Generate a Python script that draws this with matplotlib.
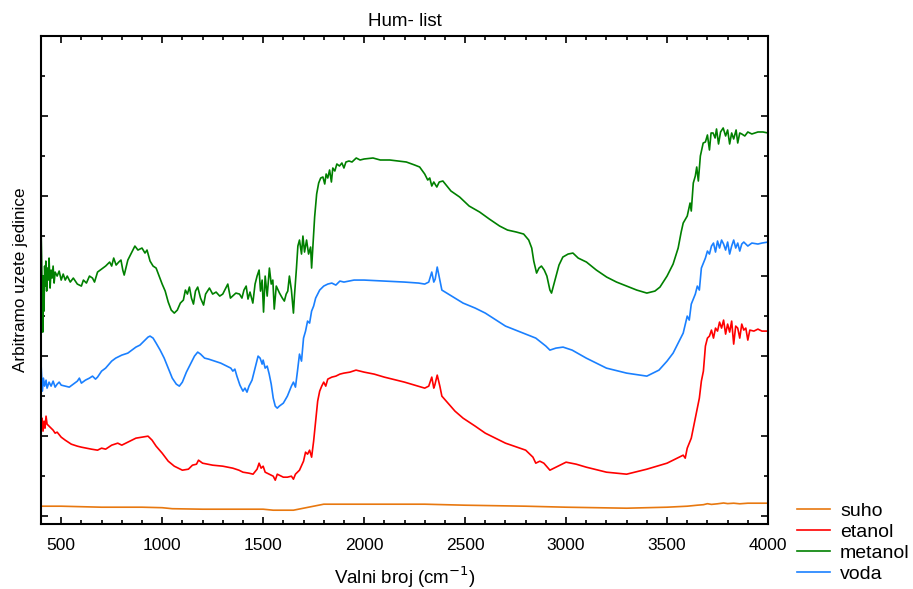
import matplotlib
matplotlib.use("Agg")
import matplotlib.pyplot as plt
from matplotlib.ticker import MultipleLocator, NullFormatter

plt.rcParams['font.family'] = ['Liberation Sans', 'DejaVu Sans']

# 値は画像から読み取ったもの (縦軸は任意単位)
suho_x = [400, 500, 700, 900, 1000, 1050, 1200, 1400, 1500, 1550, 1650, 1700, 1750, 1800,
          2000, 2300, 2500, 2800, 3000, 3300, 3500, 3600, 3650, 3680, 3700, 3720, 3750,
          3780, 3800, 3830, 3860, 3900, 4000]
suho_y = [10, 10, 9, 9, 8.5, 7.5, 7, 7, 7, 6, 6, 8, 10, 12,
          12, 12, 11, 10, 9, 8, 9, 10, 11, 11.5, 12.5, 11.8, 12.4,
          13.2, 12.6, 13, 12.4, 13, 13]

etanol_x = [400, 405, 410, 415, 420, 425, 430, 440, 450, 460, 470, 480, 500, 520, 550, 580,
            600, 650, 680, 700, 720, 750, 780, 800, 820, 850, 870, 900, 930, 950, 970, 1000,
            1030, 1060, 1100, 1130, 1150, 1170, 1180, 1200, 1250, 1300, 1350, 1380, 1400,
            1430, 1450, 1470, 1480, 1490, 1500, 1510, 1530, 1550, 1560, 1570, 1600, 1620,
            1640, 1650, 1660, 1680, 1700, 1710, 1720, 1730, 1740, 1750, 1760, 1770, 1780,
            1790, 1800, 1810, 1820, 1840, 1860, 1880, 1900, 1930, 1960, 1980, 2000, 2050,
            2100, 2200, 2250, 2300, 2320, 2335, 2345, 2350, 2362, 2375, 2385, 2450, 2490,
            2550, 2600, 2700, 2800, 2836, 2850, 2870, 2890, 2920, 2950, 3000, 3050, 3100,
            3200, 3300, 3400, 3500, 3560, 3580, 3590, 3600, 3620, 3640, 3650, 3660, 3670,
            3680, 3690, 3700, 3710, 3720, 3730, 3740, 3750, 3760, 3770, 3780, 3790, 3800,
            3810, 3820, 3830, 3840, 3850, 3860, 3870, 3880, 3890, 3900, 3910, 3930, 3950,
            3970, 4000]
etanol_y = [90, 98, 85, 95, 88, 100, 92, 90, 88, 86, 83, 84, 79, 76, 72, 70,
            69, 67, 66, 68, 67, 71, 73, 71, 73, 76, 78, 79, 80, 76, 70, 63,
            55, 50, 46, 47, 51, 52, 56, 53, 51, 50, 48, 46, 44,
            43, 42, 47, 53, 48, 50, 44, 42, 40, 36, 42, 39, 39,
            40, 37, 42, 46, 55, 64, 62, 66, 59, 75, 95, 115, 125,
            130, 134, 130, 137, 139, 140, 142, 143, 144, 146, 145, 144, 142,
            139, 134, 131, 128, 130, 139, 128, 131, 141, 130, 120, 105, 98,
            90, 83, 73, 66, 59, 53, 55, 53, 46, 49, 54, 52, 49,
            44, 42, 47, 53, 59, 61, 58, 68, 78, 98, 108, 118, 135,
            145, 170, 178, 180, 186, 178, 188, 185, 194, 188, 196, 182, 192,
            184, 195, 172, 190, 188, 178, 192, 186, 188, 176, 186, 185, 187,
            185, 185]

metanol_x = [400, 403, 406, 409, 412, 415, 418, 421, 424, 428, 432, 436, 440, 445, 450, 455,
             460, 465, 470, 480, 490, 500, 510, 520, 530, 545, 560, 580, 600, 610, 625, 640,
             655, 665, 680, 700, 720, 740, 750, 760, 772, 785, 796, 805, 812, 830, 850, 865,
             880, 900, 915, 925, 940, 955, 970, 985, 1000, 1015, 1030, 1045, 1060, 1075,
             1090, 1105, 1115, 1125, 1135, 1145, 1155, 1165, 1176, 1190, 1205, 1215, 1234,
             1250, 1267, 1285, 1300, 1310, 1325, 1338, 1349, 1365, 1383, 1395, 1405, 1416,
             1425, 1435, 1449, 1460, 1470, 1480, 1487, 1495, 1502, 1510, 1520, 1531, 1540,
             1548, 1555, 1565, 1581, 1595, 1605, 1614, 1622, 1630, 1640, 1650, 1655, 1665,
             1672, 1680, 1690, 1697, 1705, 1715, 1725, 1735, 1740, 1748, 1755, 1765, 1775,
             1785, 1796, 1805, 1812, 1820, 1829, 1838, 1845, 1855, 1865, 1878, 1890, 1900,
             1910, 1925, 1940, 1961, 1980, 2000, 2044, 2080, 2127, 2170, 2209, 2250, 2275,
             2300, 2315, 2325, 2335, 2345, 2360, 2372, 2390, 2430, 2473, 2520, 2572, 2620,
             2671, 2710, 2754, 2790, 2815, 2830, 2840, 2854, 2866, 2878, 2892, 2905, 2920,
             2928, 2945, 2965, 2984, 3010, 3034, 3060, 3101, 3150, 3201, 3250, 3300, 3350,
             3400, 3440, 3465, 3500, 3530, 3555, 3570, 3580, 3600, 3614, 3620, 3630, 3640,
             3647, 3655, 3665, 3679, 3690, 3700, 3710, 3718, 3728, 3738, 3745, 3755, 3765,
             3778, 3790, 3800, 3810, 3820, 3830, 3842, 3850, 3860, 3870, 3885, 3900, 3920,
             3950, 3975, 4000]
metanol_y = [290, 260, 220, 184, 240, 205, 250, 230, 255, 225, 248, 236, 258, 228, 246, 238,
             250, 233, 244, 240, 245, 236, 242, 236, 240, 234, 238, 232, 230, 236, 233, 240,
             238, 234, 244, 247, 250, 254, 250, 258, 251, 254, 256, 246, 241, 256, 264, 270,
             266, 268, 263, 266, 255, 250, 248, 240, 232, 225, 214, 206, 203, 206,
             213, 216, 226, 222, 229, 218, 212, 225, 229, 218, 211, 222, 228,
             222, 224, 220, 222, 226, 232, 218, 220, 223, 222, 218, 226, 230,
             217, 224, 213, 232, 240, 246, 225, 236, 204, 240, 220, 248, 232,
             236, 207, 230, 223, 218, 215, 222, 225, 240, 226, 203, 220, 248,
             270, 276, 262, 280, 264, 276, 262, 269, 248, 275, 299, 322, 333,
             338, 339, 332, 342, 338, 346, 334, 348, 345, 352, 350, 353, 348,
             354, 355, 354, 358, 356, 357, 358, 356, 356, 355, 354, 351, 349,
             342, 336, 338, 330, 334, 329, 334, 335, 325, 319, 310, 304, 297,
             290, 286, 284, 282, 276, 268, 255, 243, 248, 250, 246, 240, 226,
             223, 236, 251, 259, 262, 263, 258, 254, 246, 239, 234, 230, 226,
             223, 225, 229, 240, 252, 268, 284, 293, 300, 313, 305, 333, 340,
             349, 335, 360, 373, 374, 381, 366, 383, 383, 378, 387, 372, 384,
             388, 380, 386, 372, 383, 377, 386, 373, 383, 382, 380, 384, 382,
             384, 384, 383]

voda_x = [400, 403, 407, 412, 418, 425, 430, 440, 450, 460, 470, 480, 490, 500, 520, 540,
          560, 580, 590, 600, 620, 640, 655, 670, 680, 700, 720, 750, 770, 800, 830, 850,
          870, 890, 910, 930, 940, 955, 970, 990, 1010, 1030, 1050, 1070, 1085, 1100, 1120,
          1140, 1160, 1176, 1190, 1210, 1230, 1260, 1290, 1320, 1340, 1350, 1360, 1370,
          1385, 1400, 1410, 1420, 1430, 1445, 1460, 1475, 1485, 1495, 1500, 1510, 1520,
          1530, 1540, 1550, 1560, 1570, 1580, 1600, 1620, 1640, 1650, 1660, 1670, 1680,
          1690, 1700, 1710, 1720, 1730, 1740, 1750, 1760, 1770, 1780, 1790, 1800, 1820,
          1840, 1860, 1880, 1900, 1950, 2000, 2100, 2200, 2270, 2300, 2320, 2335, 2345,
          2352, 2362, 2375, 2385, 2450, 2490, 2550, 2600, 2700, 2800, 2850, 2900, 2920,
          2950, 2985, 3030, 3100, 3200, 3300, 3400, 3460, 3500, 3530, 3560, 3580, 3600,
          3610, 3620, 3640, 3650, 3660, 3670, 3680, 3690, 3700, 3710, 3720, 3730, 3740,
          3750, 3760, 3770, 3780, 3790, 3800, 3810, 3820, 3830, 3840, 3850, 3860, 3870,
          3880, 3900, 3920, 3950, 3970, 4000]
voda_y = [153, 140, 125, 138, 130, 136, 128, 134, 130, 135, 129, 132, 134, 131, 130, 129,
          132, 135, 138, 133, 136, 138, 140, 137, 139, 145, 148, 155, 158, 161, 163, 166,
          169, 171, 175, 179, 180, 178, 173, 166, 158, 148, 138, 132, 130, 134, 144,
          152, 160, 164, 162, 158, 157, 155, 153, 150, 148, 145, 147, 140,
          131, 125, 128, 124, 130, 136, 148, 160, 158, 152, 156, 148, 150,
          142, 132, 118, 110, 108, 110, 113, 120, 130, 134, 129, 145, 162,
          155, 178, 185, 195, 193, 205, 210, 218, 222, 226, 228, 230, 232,
          233, 231, 235, 234, 236, 236, 235, 234, 233, 232, 234, 244, 234,
          237, 249, 236, 226, 218, 213, 208, 203, 190, 182, 178, 170, 166,
          168, 169, 166, 158, 148, 143, 140, 146, 155, 163, 175, 183, 200,
          196, 212, 222, 230, 226, 248, 253, 258, 265, 262, 270, 273, 264,
          275, 268, 276, 272, 266, 274, 262, 270, 276, 268, 273, 265, 272,
          274, 270, 273, 272, 273, 274]

series = [("suho", suho_x, suho_y, "#E8780F"),
          ("etanol", etanol_x, etanol_y, "#FF0000"),
          ("metanol", metanol_x, metanol_y, "#008000"),
          ("voda", voda_x, voda_y, "#1A80FF")]

fig = plt.figure(figsize=(9.13, 5.89), dpi=100)
ax = fig.add_axes([0.0449, 0.110, 0.7963, 0.829])

for name, xs, ys, col in series:
    ax.plot(xs, ys, color=col, lw=1.2, label=name)

ax.set_xlim(400, 4000)
ax.set_ylim(-8, 480)
ax.xaxis.set_major_locator(MultipleLocator(500))
ax.xaxis.set_minor_locator(MultipleLocator(100))
ax.yaxis.set_major_locator(MultipleLocator(80))
ax.yaxis.set_minor_locator(MultipleLocator(40))
ax.yaxis.set_major_formatter(NullFormatter())
ax.tick_params(which='both', direction='in', top=True, right=True, width=1.2)
ax.tick_params(which='major', length=5)
ax.tick_params(which='minor', length=3)
ax.tick_params(axis='x', which='major', labelsize=12.5, pad=10)
for s in ax.spines.values():
    s.set_linewidth(1.5)

ax.set_title("Hum- list", fontsize=13.5, pad=7)
ax.set_xlabel("Valni broj (cm$^{-1}$)", fontsize=13.5, labelpad=8)
ax.set_ylabel("Arbitramo uzete jedinice", fontsize=12.3, labelpad=5.5)

fig.legend(loc='lower left', bbox_to_anchor=(0.854, -0.02), frameon=False,
           fontsize=14, handlelength=1.7, labelspacing=0.18, handletextpad=0.5)

fig.savefig("out.png", dpi=100)
